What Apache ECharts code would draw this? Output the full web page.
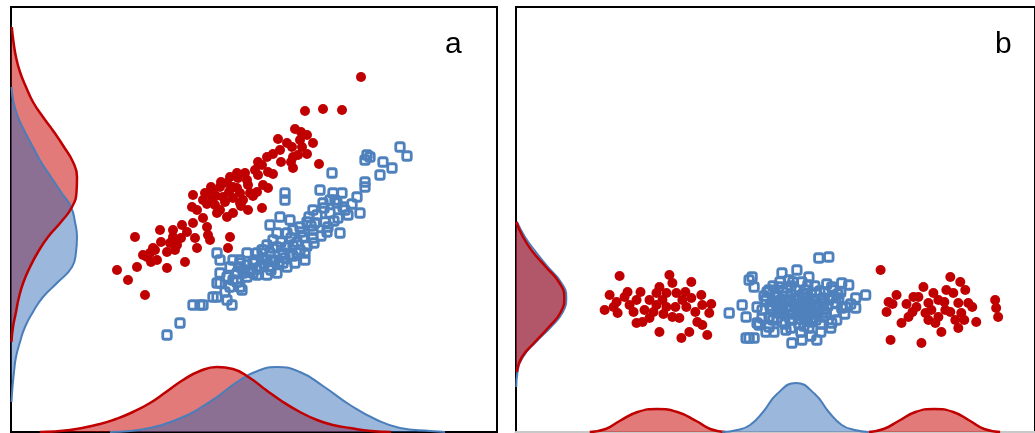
<!DOCTYPE html>
<html><head><meta charset="utf-8">
<script src="https://cdn.jsdelivr.net/npm/echarts@6/dist/echarts.min.js"></script>
<style>html,body{margin:0;padding:0;background:#fff}#c{width:1035px;height:433px}</style>
</head><body><div id="c"></div><script>
// Panel labels
const panelLabels = ['a', 'b'];

// Panel a scatter (x, y in panel units, origin bottom-left)
const aRed = [[350,355],[294,321],[312,323],[331,322],[284,303],[296,297],[302,289],[267,293],[276,289],[281,285],[291,285],[287,277],[282,275],[262,278],[256,275],[282,264],[308,268],[247,270],[257,260],[247,257],[234,259],[226,259],[219,255],[216,249],[222,245],[237,247],[252,247],[257,244],[209,245],[202,240],[194,239],[182,237],[229,239],[239,239],[246,240],[232,232],[222,234],[212,235],[201,234],[192,232],[237,222],[251,224],[229,229],[209,222],[206,219],[216,215],[222,219],[186,222],[192,214],[182,209],[196,205],[197,197],[199,192],[219,195],[217,184],[184,194],[186,184],[171,207],[162,202],[149,202],[162,195],[159,189],[166,187],[156,180],[144,182],[139,179],[146,172],[136,175],[124,195],[132,177],[126,165],[117,152],[106,162],[156,164],[174,170],[134,137],[181,225],[142,184],[161,190],[164,182],[251,267],[269,282],[289,292],[204,227],[227,254],
  [200,245],[210,250],[218,240],[226,244],[236,252],[242,236],[230,226],[214,230],[205,236],[196,228],[244,262],[262,258],[270,270],[280,270],[296,278],[290,300],[176,200],[170,194],[150,190],[140,170]];
const aBlue = [[389,285],[396,276],[356,277],[359,275],[354,272],[372,270],[381,264],[369,257],[354,250],[354,245],[321,259],[309,242],[274,239],[274,232],[322,239],[331,239],[319,232],[326,229],[332,225],[312,229],[302,222],[306,217],[337,217],[349,219],[327,214],[319,219],[314,210],[304,209],[296,210],[289,205],[282,202],[302,202],[317,205],[329,199],[269,215],[279,212],[259,207],[302,194],[292,195],[282,187],[276,185],[266,185],[262,192],[256,187],[252,182],[259,179],[252,174],[262,172],[272,179],[279,177],[286,179],[294,179],[294,172],[284,169],[276,165],[266,159],[256,157],[249,165],[242,169],[236,167],[229,165],[222,172],[219,165],[226,159],[236,155],[222,152],[216,155],[209,159],[206,179],[209,149],[219,145],[229,145],[206,135],[216,132],[221,127],[202,135],[182,127],[189,127],[192,127],[169,109],[156,97],[246,179],[256,172],[236,179],[229,169],[242,159],[272,169],[266,199],[276,199],[209,172],[229,172],[251,182],[206,149],[232,159],[246,157],[231,142],
  [239,160],[246,163],[253,168],[260,162],[268,170],[274,174],[282,176],[289,182],[296,186],[303,189],[310,196],[316,200],[323,211],[334,222],[341,228],[346,235],[313,224],[298,215],[290,200],[280,194],[270,190],[262,184],[244,172],[226,150],[214,140],[233,162],[258,166],[286,190],[300,206],[324,232]];

// Panel b scatter
const bRed = [[104,156],[94,137],[89,122],[101,130],[102,119],[109,135],[114,127],[121,132],[121,109],[129,122],[134,114],[127,110],[141,139],[144,145],[151,139],[154,157],[157,149],[151,125],[157,115],[164,114],[144,100],[166,94],[174,100],[171,125],[176,134],[176,150],[186,137],[187,127],[194,119],[187,107],[192,97],[134,132],[141,127],[147,132],[161,139],[167,132],
  [98,125],[112,140],[118,120],[125,140],[138,120],[148,118],[160,125],[170,140],[180,120],[182,110],[196,128],
  [366,162],[382,137],[374,130],[372,120],[376,92],[387,109],[394,115],[399,135],[409,145],[402,125],[411,119],[407,89],[414,129],[419,139],[424,132],[424,115],[421,109],[427,100],[436,155],[439,139],[444,129],[451,142],[454,129],[441,112],[444,104],[431,122],[447,119],[462,110],[481,132],[482,124],[484,115],[404,135],[414,112],
  [378,128],[392,128],[398,120],[417,122],[430,130],[436,120],[450,112],[458,125],[432,142],[446,150]];
const bBlue = [[304,174],[314,175],[282,162],[237,155],[234,152],[239,145],[214,119],[227,127],[231,115],[242,125],[242,109],[231,94],[234,94],[239,94],[251,100],[271,102],[277,89],[287,92],[302,92],[306,100],[317,109],[324,134],[327,149],[334,147],[341,134],[351,137],[341,124],[331,125],[317,145],[287,150],[274,152],[264,145],[254,142],[251,132],[261,129],[271,132],[281,132],[291,135],[301,139],[307,129],[294,122],[284,119],[274,122],[264,119],[254,115],[277,112],[291,112],[301,112],[311,119],[314,132],[281,142],[267,159],[294,155],[257,122],[287,129],[267,110],[247,122],[254,105],[297,114],[321,129],[244,107],
  [260,137],[268,140],[276,138],[284,136],[290,142],[296,128],[304,124],[310,140],[318,135],[262,125],[270,117],[280,125],[288,118],[298,120],[308,115],[276,146],[266,132],[300,146],[320,120],[258,112],[284,108],[294,104],
  [252,140],[258,146],[263,135],[268,128],[272,144],[278,150],[283,128],[288,138],[293,147],[298,133],[303,127],[308,134],[313,126],[318,142],[323,138],[327,124],[330,118],[322,112],[316,104],[306,108],[296,110],[286,113],[278,118],[270,108],[262,114],[255,126],[249,136],[258,131],[265,150],[282,122],[292,125],[305,141],[312,148],[326,140],[336,128],[286,100],[296,96],[276,104],[259,100],[247,114],
  [272,126],[279,133],[286,124],[293,131],[300,124],[309,122],[275,113],[268,121],[289,106],[302,118]];

// Marginal densities: left margin sampled at these heights
const densityLevels = ['0','15','30','45','60','75','90','105','120','135','150','165','180','195','210','225','240','255','270','285','300','315','330','345','360','375','390','405','420'];
const aLeftRed  = [null,null,null,null,null,null,0.5,2,5,8,12.5,19,27,37,50,61,65.5,66,62,53,43,32,22,15,9,5,2.5,0.8,null];
const aLeftBlue = [null,null,0.5,1.5,3,5,9,14,22,32,47,61,65,66,64,60,50,40,30,22,14,7,2.5,0.5,null,null,null,null,null];
const bLeftRed  = [null,null,null,null,0.8,6,19,33,45,48.5,43,30,17,7,0.3,null,null,null,null,null,null,null,null,null,null,null,null,null,null];
const bLeftBlue = [null,null,null,0.3,1.5,7,20,35,47,50.5,45,32,20,9,1,null,null,null,null,null,null,null,null,null,null,null,null,null,null];

// Bottom margin densities
const aBotRed  = [[29,0],[59,2],[89,8],[105,13],[122,20],[139,29],[155,40],[172,52],[189,61],[206,65],[222,63],[239,54],[255,42],[272,30],[289,20],[306,12],[322,7],[339,4],[360,1],[380,0]];
const aBotBlue = [[99,0],[139,4],[172,15],[189,24],[206,35],[229,52],[249,62],[266,65],[289,60],[312,46],[339,27],[366,12],[389,4],[419,1],[434,0]];
const bBotRedLeft  = [[74,0],[90,3],[104,11],[122,20],[142,23],[162,20],[181,11],[195,3],[210,0]];
const bBotBlue     = [[207,0],[222,2],[235,7],[248,20],[262,38],[281,49],[300,38],[314,20],[327,7],[340,2],[354,0]];
const bBotRedRight = [[354,0],[369,3],[384,11],[401,20],[420,23],[439,20],[456,11],[470,3],[486,0]];

const RED = '#C00000', BLUE_LINE = '#4A7EBB', BLUE_PT = '#4F81BD';
const RED_FILL = 'rgba(200,0,0,0.52)', BLUE_FILL = 'rgba(42,102,179,0.47)';

function leftData(vals) {
  const out = [];
  vals.forEach((v, i) => { if (v !== null) out.push([v, i]); });
  return out;
}
function curve(axis, data, color, width, fill) {
  const s = {
    type: 'line', xAxisIndex: axis, yAxisIndex: axis, data: data,
    smooth: 0.5, showSymbol: false, symbol: 'none', silent: true,
    lineStyle: { color: color, width: width, opacity: width > 0 ? 1 : 0 }
  };
  if (fill) s.areaStyle = { color: fill, opacity: 1 };
  return s;
}
function scatter(axis, data, kind) {
  if (kind === 'red') return { type: 'scatter', xAxisIndex: axis, yAxisIndex: axis, data: data, symbol: 'circle', symbolSize: 10, itemStyle: { color: RED, opacity: 1 } };
  return { type: 'scatter', xAxisIndex: axis, yAxisIndex: axis, data: data, symbol: 'roundRect', symbolSize: 8.5, itemStyle: { color: 'rgba(255,255,255,0)', borderColor: BLUE_PT, borderWidth: 2.8, opacity: 1 } };
}

const series = [
  // panel a
  curve(1, leftData(aLeftBlue), BLUE_LINE, 2, null),
  curve(0, aBotBlue, BLUE_LINE, 2, null),
  curve(1, leftData(aLeftRed), RED, 0, RED_FILL),
  curve(0, aBotRed, RED, 0, RED_FILL),
  curve(1, leftData(aLeftBlue), BLUE_LINE, 0, BLUE_FILL),
  curve(0, aBotBlue, BLUE_LINE, 0, BLUE_FILL),
  curve(1, leftData(aLeftRed), RED, 2.5, null),
  curve(0, aBotRed, RED, 2.5, null),
  scatter(0, aBlue, 'blue'),
  scatter(0, aRed, 'red'),
  // panel b
  curve(3, leftData(bLeftBlue), BLUE_LINE, 0, BLUE_FILL),
  curve(3, leftData(bLeftRed), RED, 0, RED_FILL),
  curve(3, leftData(bLeftBlue), BLUE_LINE, 2, null),
  curve(3, leftData(bLeftRed), RED, 2.5, null),
  curve(2, bBotRedLeft, RED, 2.5, RED_FILL),
  curve(2, bBotRedRight, RED, 2.5, RED_FILL),
  curve(2, bBotBlue, BLUE_LINE, 2, BLUE_FILL),
  scatter(2, bBlue, 'blue'),
  scatter(2, bRed, 'red')
];

const hidden = { show: false };
const chart = echarts.init(document.getElementById('c'), null, { renderer: 'canvas' });
chart.setOption({
  animation: false,
  backgroundColor: '#fff',
  title: [
    { text: panelLabels[0], left: 445, top: 30, padding: 0, textStyle: { fontSize: 30, fontWeight: 'normal', color: '#000', fontFamily: 'Liberation Sans' } },
    { text: panelLabels[1], left: 995, top: 30, padding: 0, textStyle: { fontSize: 30, fontWeight: 'normal', color: '#000', fontFamily: 'Liberation Sans' } }
  ],
  grid: [
    { left: 11, top: 7, width: 486, height: 425, show: true, borderColor: '#000', borderWidth: 2, backgroundColor: 'transparent' },
    { left: 11, top: 12, width: 486, height: 420 },
    { left: 516, top: 7, width: 521, height: 425, show: true, borderColor: '#000', borderWidth: 2, backgroundColor: 'transparent' },
    { left: 516, top: 12, width: 521, height: 420 }
  ],
  xAxis: [
    { gridIndex: 0, type: 'value', min: 0, max: 486, show: false },
    { gridIndex: 1, type: 'value', min: 0, max: 486, show: false },
    { gridIndex: 2, type: 'value', min: 0, max: 521, show: true,
      axisLine: { show: true, onZero: false, lineStyle: { color: '#c9c9c9', width: 3 } },
      axisTick: hidden, axisLabel: hidden, splitLine: hidden },
    { gridIndex: 3, type: 'value', min: 0, max: 521, show: false }
  ],
  yAxis: [
    { gridIndex: 0, type: 'value', min: 0, max: 425, show: false },
    { gridIndex: 1, type: 'category', data: densityLevels, boundaryGap: false, show: false },
    { gridIndex: 2, type: 'value', min: 0, max: 425, show: false },
    { gridIndex: 3, type: 'category', data: densityLevels, boundaryGap: false, show: false }
  ],
  series: series
});
</script></body></html>
